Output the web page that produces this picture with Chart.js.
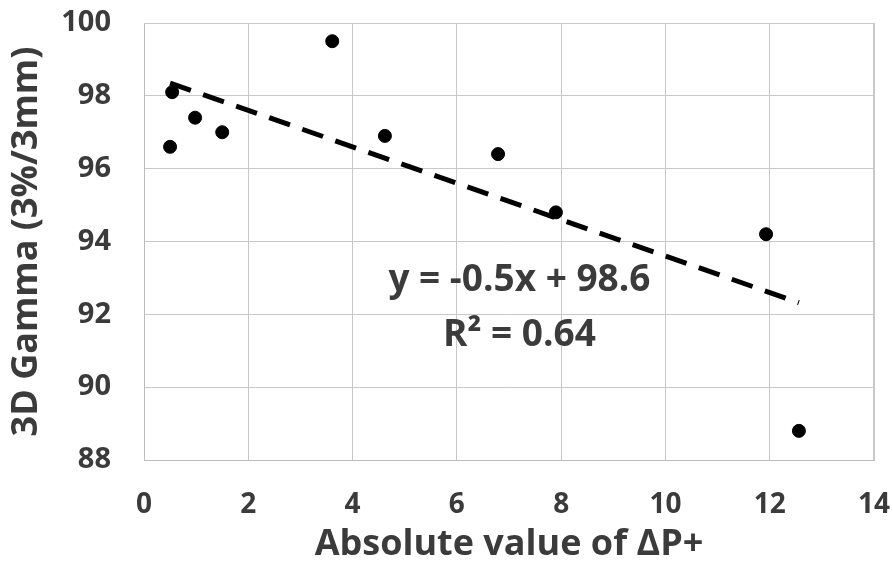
<!DOCTYPE html>
<html>
<head>
<meta charset="utf-8">
<script src="https://cdn.jsdelivr.net/npm/chart.js@4/dist/chart.umd.min.js"></script>
<style>
html,body{margin:0;padding:0;background:#fff;}
#wrap{width:893px;height:566px;position:relative;}
</style>
</head>
<body>
<div id="wrap"><canvas id="c" width="893" height="566"></canvas></div>
<script>
// Data
const xValues = [0.50, 0.54, 0.98, 1.50, 3.61, 4.62, 6.79, 7.90, 11.93, 12.56];
const yValues = [96.6, 98.1, 97.4, 97.0, 99.5, 96.9, 96.4, 94.8, 94.2, 88.8];
const trendX = [0.5, 12.56];
const trendY = [98.35, 92.32];
const annotationLines = ["y = -0.5x + 98.6", "R\u00B2 = 0.64"];
const annotationX = [7.2, 7.2];
const annotationY = [92.94, 91.43];
const xTitle = "Absolute value of \u0394P+";
const yTitle = "3D Gamma (3%/3mm)";

const textColor = "#3b3b3b";
const fontFamily = "'Open Sans', 'Noto Sans', sans-serif";

const annotationPlugin = {
  id: 'eqText',
  afterDatasetsDraw(chart) {
    const ctx = chart.ctx;
    const xs = chart.scales.x, ys = chart.scales.y;
    ctx.save();
    ctx.font = "bold 37px " + fontFamily;
    ctx.fillStyle = textColor;
    ctx.textAlign = "center";
    ctx.textBaseline = "middle";
    annotationLines.forEach((t, i) => {
      ctx.fillText(t, xs.getPixelForValue(annotationX[i]), ys.getPixelForValue(annotationY[i]));
    });
    ctx.restore();
  }
};

new Chart(document.getElementById('c'), {
  type: 'scatter',
  data: {
    datasets: [
      {
        label: 'data',
        data: xValues.map((x, i) => ({x: x, y: yValues[i]})),
        backgroundColor: '#000',
        borderColor: '#000',
        pointRadius: 6.5,
        pointHoverRadius: 6.5
      },
      {
        label: 'trend',
        type: 'line',
        data: trendX.map((x, i) => ({x: x, y: trendY[i]})),
        borderColor: '#000',
        borderWidth: 5,
        borderDash: [22, 13],
        borderCapStyle: 'butt',
        pointRadius: 0,
        fill: false
      }
    ]
  },
  options: {
    responsive: false,
    animation: false,
    devicePixelRatio: 1,
    layout: { padding: { top: 23, right: 19, left: 0, bottom: 0 } },
    plugins: { legend: { display: false }, tooltip: { enabled: false } },
    scales: {
      x: {
        type: 'linear',
        min: 0, max: 14,
        ticks: { stepSize: 2, color: textColor, font: { family: fontFamily, size: 28, weight: 'bold' }, padding: 28 },
        grid: { color: '#c8c8c8', lineWidth: 1, drawTicks: false },
        border: { display: true, color: '#bdbdbd', width: 1 },
        title: { display: true, text: xTitle, color: textColor, font: { family: fontFamily, size: 36, weight: 'bold' }, padding: { top: 0, bottom: 0 } },
        afterFit(scale) { scale.height = 106; scale.paddingLeft = 0; scale.paddingRight = 0; }
      },
      y: {
        type: 'linear',
        min: 88, max: 100,
        ticks: { stepSize: 2, color: textColor, font: { family: fontFamily, size: 29, weight: 'bold' }, padding: 33 },
        grid: { color: '#c8c8c8', lineWidth: 1, drawTicks: false },
        border: { display: true, color: '#bdbdbd', width: 1 },
        title: { display: true, text: yTitle, color: textColor, font: { family: fontFamily, size: 36, weight: 'bold' }, padding: { top: 5, bottom: 0 } },
        afterFit(scale) { scale.width = 144; scale.paddingTop = 0; scale.paddingBottom = 0; }
      }
    }
  },
  plugins: [annotationPlugin, {
    id: 'frame',
    afterDraw(chart) {
      const a = chart.chartArea, ctx = chart.ctx;
      ctx.save();
      ctx.strokeStyle = '#c8c8c8';
      ctx.lineWidth = 1;
      ctx.beginPath();
      ctx.moveTo(a.left, a.top + 0.5); ctx.lineTo(a.right, a.top + 0.5);
      ctx.moveTo(a.right - 0.5, a.top); ctx.lineTo(a.right - 0.5, a.bottom);
      ctx.stroke();
      ctx.restore();
    }
  }]
});
</script>
</body>
</html>
